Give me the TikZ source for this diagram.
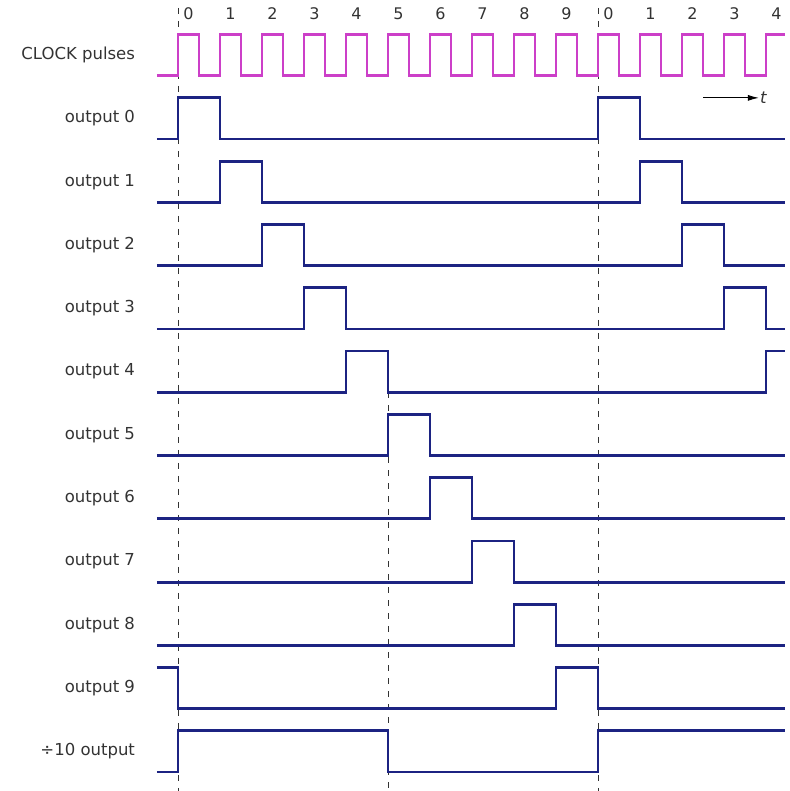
\documentclass[tikz,border=0pt]{standalone}
\usepackage{fontspec}
\setmainfont{DejaVu Sans}
\usetikzlibrary{arrows.meta}
\definecolor{mnavy}{HTML}{1C2382}
\definecolor{mmag}{HTML}{CC3FC8}
\definecolor{mtext}{HTML}{333333}
\tikzset{
  clk/.style={mmag,line width=2.5pt},
  wave/.style={mnavy,line width=2.8pt},
  marker/.style={black!80,line width=0.9pt,dash pattern=on 6pt off 7pt},
  lbl/.style={anchor=east,font=\fontsize{16.5}{19}\selectfont,text=mtext,inner sep=0pt},
  num/.style={font=\fontsize{16}{19}\selectfont,text=mtext,inner sep=0pt},
  arr/.style={-{Latex[length=11pt,width=6pt]},black,line width=0.9pt},
}

\begin{document}
\begin{tikzpicture}[x=42pt,y=-63.3pt]
    \useasboundingbox (-4.238,-2.196) rectangle (14.571,10.30);
    % dashed markers
    \draw[marker] (0,-2.07) -- (0,10.3);
    \draw[marker] (10,-2.07) -- (10,10.3);
    \draw[marker] (5,4) -- (5,10.3);
    % clock numbers
    \foreach \i in {0,...,14}{
      \pgfmathtruncatemacro{\n}{mod(\i,10)}
      \node[num] (num\i) at (\i+0.25,-1.975) {\n};
    }
    % clock
    \node[lbl] (clklbl) at (-1.02,-1.325) {CLOCK pulses};
    \draw[clk] (-0.5,-1) \foreach \i in {0,...,13}{ -- (\i,-1) -- (\i,-1.65) -- (\i+0.5,-1.65) -- (\i+0.5,-1)}
      -- (14,-1) -- (14,-1.65) -- (14.45,-1.65);
    % output labels
    \foreach \k in {0,...,9}
      \node[lbl] (out\k) at (-1.02,\k-0.325) {output \k};
    \node[lbl] (outdiv) at (-1.02,9.675) {÷10 output};
    % outputs 0-3 (two pulses)
    \foreach \k in {0,...,3}
      \draw[wave] (-0.5,\k) -- (\k,\k) -- (\k,\k-0.65) -- (\k+1,\k-0.65) -- (\k+1,\k)
        -- (\k+10,\k) -- (\k+10,\k-0.65) -- (\k+11,\k-0.65) -- (\k+11,\k) -- (14.45,\k);
    % output 4
    \draw[wave] (-0.5,4) -- (4,4) -- (4,3.35) -- (5,3.35) -- (5,4) -- (14,4) -- (14,3.35) -- (14.45,3.35);
    % outputs 5-8
    \foreach \k in {5,...,8}
      \draw[wave] (-0.5,\k) -- (\k,\k) -- (\k,\k-0.65) -- (\k+1,\k-0.65) -- (\k+1,\k) -- (14.45,\k);
    % output 9
    \draw[wave] (-0.5,8.35) -- (0,8.35) -- (0,9) -- (9,9) -- (9,8.35) -- (10,8.35) -- (10,9) -- (14.45,9);
    % divide by ten
    \draw[wave] (-0.5,10) -- (0,10) -- (0,9.35) -- (5,9.35) -- (5,10) -- (10,10) -- (10,9.35) -- (14.45,9.35);
    % time arrow
    \coordinate (tfrom) at (12.5,-0.65);
    \node[anchor=west,inner sep=1pt,font=\fontsize{16.5}{19}\selectfont\itshape,text=mtext] (tlbl) at (13.83,-0.65) {t};
    \draw[arr] (tfrom) -- (tlbl.west);
\end{tikzpicture}
\end{document}
